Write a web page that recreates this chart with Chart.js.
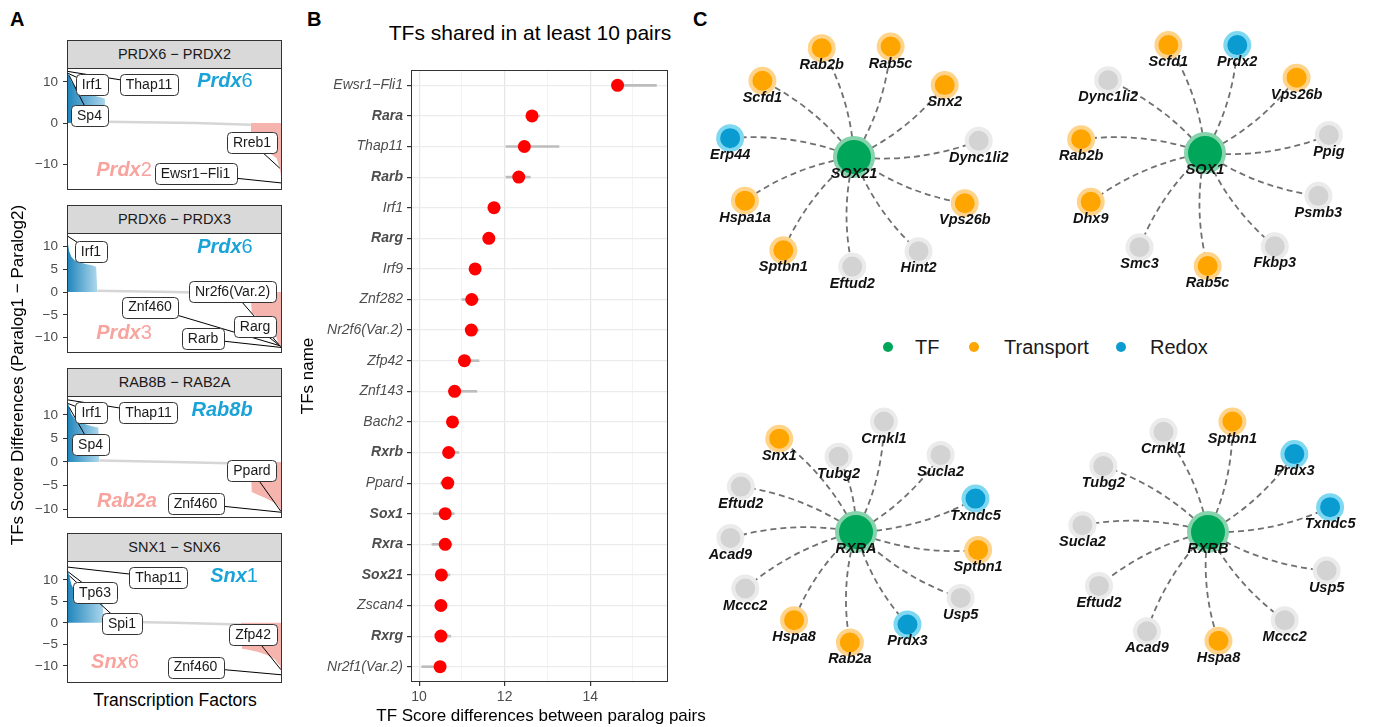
<!DOCTYPE html>
<html>
<head>
<meta charset="utf-8">
<title>TF score differences between paralog pairs</title>
<script src="https://cdn.jsdelivr.net/npm/chart.js@4.4.1/dist/chart.umd.min.js"></script>
<style>
  html, body { margin: 0; padding: 0; background: #fff; }
  body { position: relative; width: 1387px; height: 727px; overflow: hidden;
         font-family: 'Liberation Sans', Arial, Helvetica, sans-serif; color: #000; }
  canvas { position: absolute; }
  .abs { position: absolute; white-space: nowrap; }
  .tag { position: absolute; font-weight: bold; font-size: 20px; line-height: 20px; }
  .strip { position: absolute; left: 67px; width: 213px; height: 27px; line-height: 27px;
           background: #d9d9d9; border: 1px solid #333; text-align: center;
           font-size: 14.5px; color: #1a1a1a; }
  .dot { position: absolute; width: 10px; height: 10px; border-radius: 50%; }
  .leg { position: absolute; font-size: 20px; line-height: 24px; color: #1a1a1a; }
</style>
</head>
<body>

<div class="tag" style="left:10px;top:9px">A</div>
<div class="tag" style="left:307px;top:9px">B</div>
<div class="tag" style="left:693px;top:9px">C</div>

<!-- panel A -->
<div class="strip" style="top:40px" id="strip0"></div>
<div class="strip" style="top:205px" id="strip1"></div>
<div class="strip" style="top:368px" id="strip2"></div>
<div class="strip" style="top:533px" id="strip3"></div>
<canvas id="facet0" width="264" height="122" style="left:20px;top:68px"></canvas>
<canvas id="facet1" width="264" height="120" style="left:20px;top:233px"></canvas>
<canvas id="facet2" width="264" height="122" style="left:20px;top:396px"></canvas>
<canvas id="facet3" width="264" height="122" style="left:20px;top:561px"></canvas>
<div class="abs" style="left:-232px;top:365px;width:500px;height:20px;line-height:20px;text-align:center;font-size:17px;transform:rotate(-90deg)">TFs Score Differences (Paralog1 − Paralog2)</div>
<div class="abs" style="left:75px;top:689px;width:200px;text-align:center;font-size:17.5px;line-height:22px">Transcription Factors</div>

<!-- panel B -->
<div class="abs" style="left:330px;top:21px;width:400px;text-align:center;font-size:21px;line-height:24px">TFs shared in at least 10 pairs</div>
<canvas id="dotplot" width="420" height="727" style="left:300px;top:0px"></canvas>
<div class="abs" style="left:341px;top:705px;width:400px;text-align:center;font-size:17px;line-height:22px">TF Score differences between paralog pairs</div>

<!-- panel C -->
<canvas id="net0" width="360" height="320" style="left:674px;top:-3px"></canvas>
<canvas id="net1" width="360" height="320" style="left:1025px;top:-7px"></canvas>
<canvas id="net2" width="360" height="320" style="left:676px;top:372px"></canvas>
<canvas id="net3" width="360" height="320" style="left:1028px;top:372px"></canvas>

<div class="dot" style="left:883px;top:342px;background:#00a65a"></div>
<div class="leg" style="left:915px;top:335px">TF</div>
<div class="dot" style="left:969px;top:342px;background:#ffa500"></div>
<div class="leg" style="left:1004px;top:335px">Transport</div>
<div class="dot" style="left:1116px;top:342px;background:#0a9bd0"></div>
<div class="leg" style="left:1150px;top:335px">Redox</div>

<script>
// ---------- panel A : sorted TF score differences per paralog pair ----------
const pairNames = ['PRDX6 − PRDX2', 'PRDX6 − PRDX3', 'RAB8B − RAB2A', 'SNX1 − SNX6'];
const paralog1 = ['Prdx6', 'Prdx6', 'Rab8b', 'Snx1'];
const paralog2 = ['Prdx2', 'Prdx3', 'Rab2a', 'Snx6'];

const rankA1 = [1, 2, 3, 5, 8, 12, 17, 22, 27, 32, 36, 37, 120, 171, 172, 178, 184, 190, 195, 198, 200];
const diffA1 = [12.6, 12.1, 11.6, 10.2, 9.0, 8.0, 7.3, 6.9, 6.6, 6.3, 6.0, 0.3, 0.0, -0.4, -5.8, -6.3, -6.9, -7.6, -8.6, -11.0, -14.6];
const rankA2 = [1, 2, 3, 5, 8, 12, 18, 24, 28, 29, 100, 171, 172, 178, 184, 190, 194, 197, 198, 199, 200];
const diffA2 = [12.4, 10.5, 9.0, 7.8, 7.0, 6.6, 6.2, 5.9, 5.6, 0.3, 0.0, -0.4, -4.6, -5.6, -6.6, -7.8, -9.5, -11.5, -11.8, -12.0, -12.2];
const rankA3 = [1, 2, 3, 5, 8, 12, 18, 24, 30, 31, 100, 171, 172, 178, 184, 190, 195, 198, 199, 200];
const diffA3 = [13.2, 12.4, 11.6, 10.2, 9.2, 8.6, 8.0, 7.6, 7.3, 0.3, 0.0, -0.4, -6.4, -7.0, -7.6, -8.3, -9.0, -9.8, -10.5, -10.7];
const rankA4 = [1, 2, 3, 5, 8, 12, 18, 24, 30, 34, 35, 100, 162, 163, 170, 178, 186, 193, 198, 199, 200];
const diffA4 = [13.0, 11.9, 11.0, 9.0, 7.5, 6.2, 5.4, 5.0, 4.7, 4.5, 0.3, 0.0, -0.4, -6.0, -6.3, -6.8, -7.5, -8.4, -10.0, -10.9, -12.1];

// labelled TFs and their rank in each pair
const tfA1 = ['Thap11', 'Irf1', 'Sp4', 'Rreb1', 'Ewsr1−Fli1'];
const tfRankA1 = [1, 2, 3, 198, 200];
const tfA2 = ['Irf1', 'Nr2f6(Var.2)', 'Znf460', 'Rarg', 'Rarb'];
const tfRankA2 = [1, 197, 198, 199, 200];
const tfA3 = ['Thap11', 'Irf1', 'Sp4', 'Ppard', 'Znf460'];
const tfRankA3 = [1, 2, 3, 199, 200];
const tfA4 = ['Thap11', 'Tp63', 'Spi1', 'Zfp42', 'Znf460'];
const tfRankA4 = [1, 2, 3, 199, 200];

const yTicksA = [[-10, 0, 10], [-10, -5, 0, 5, 10], [-10, -5, 0, 5, 10], [-10, -5, 0, 5, 10]];

// ---------- panel B : TFs shared in at least 10 pairs ----------
const tfNames = ['Ewsr1−Fli1', 'Rara', 'Thap11', 'Rarb', 'Irf1', 'Rarg', 'Irf9', 'Znf282', 'Nr2f6(Var.2)', 'Zfp42',
                 'Znf143', 'Bach2', 'Rxrb', 'Ppard', 'Sox1', 'Rxra', 'Sox21', 'Zscan4', 'Rxrg', 'Nr2f1(Var.2)'];
const tfIsBold = [false, true, false, true, false, true, false, false, false, false,
                  false, false, true, false, true, true, true, false, true, false];
const meanDiff = [14.64, 12.64, 12.46, 12.33, 11.75, 11.63, 11.31, 11.23, 11.22, 11.06,
                  10.83, 10.78, 10.69, 10.67, 10.61, 10.61, 10.52, 10.51, 10.51, 10.49];
const minDiff = [14.55, 12.55, 12.03, 12.03, 11.70, 11.58, 11.25, 11.00, 11.15, 11.00,
                 10.68, 10.72, 10.60, 10.50, 10.33, 10.30, 10.45, 10.45, 10.45, 10.06];
const maxDiff = [15.55, 12.82, 13.27, 12.60, 11.90, 11.70, 11.40, 11.40, 11.40, 11.40,
                 11.35, 10.85, 10.93, 10.75, 10.82, 10.77, 10.72, 10.60, 10.74, 10.61];
const scoreTicks = [10, 11, 12, 13, 14, 15];
const scoreTickLabels = ['10', '', '12', '', '14', ''];

// ---------- panel C : TF networks ----------
const hubNames = ['SOX21', 'SOX1', 'RXRA', 'RXRB'];
const genesC1 = ['Rab2b', 'Rab5c', 'Scfd1', 'Snx2', 'Erp44', 'Dync1li2', 'Hspa1a', 'Vps26b', 'Sptbn1', 'Eftud2', 'Hint2'];
const groupC1 = ['Transport', 'Transport', 'Transport', 'Transport', 'Redox', 'Other', 'Transport', 'Transport', 'Transport', 'Other', 'Other'];
const layoutXC1 = [-37, 42, -105, 104, -142, 143, -125, 127, -81, -2, 74];
const layoutYC1 = [127, 129, 89, 84, 22, 19, -51, -54, -109, -128, -110];

const genesC2 = ['Scfd1', 'Prdx2', 'Dync1li2', 'Vps26b', 'Rab2b', 'Ppig', 'Dhx9', 'Psmb3', 'Smc3', 'Rab5c', 'Fkbp3'];
const groupC2 = ['Transport', 'Redox', 'Other', 'Transport', 'Transport', 'Other', 'Transport', 'Other', 'Other', 'Transport', 'Other'];
const layoutXC2 = [-42, 37, -111, 105, -142, 142, -131, 130, -75, 3, 80];
const layoutYC2 = [126, 126, 85, 88, 16, 21, -57, -50, -110, -132, -109];

const genesC3 = ['Crnkl1', 'Snx1', 'Tubg2', 'Sucla2', 'Eftud2', 'Txndc5', 'Acad9', 'Sptbn1', 'Mccc2', 'Usp5', 'Hspa8', 'Rab2a', 'Prdx3'];
const groupC3 = ['Other', 'Transport', 'Other', 'Other', 'Other', 'Redox', 'Other', 'Transport', 'Other', 'Other', 'Transport', 'Transport', 'Redox'];
const layoutXC3 = [32, -88, -20, 97, -132, 137, -144, 140, -127, 120, -71, -7, 59];
const layoutYC3 = [129, 109, 88, 90, 53, 39, -7, -21, -66, -77, -103, -129, -108];

const genesC4 = ['Sptbn1', 'Crnkl1', 'Prdx3', 'Tubg2', 'Txndc5', 'Sucla2', 'Usp5', 'Eftud2', 'Mccc2', 'Acad9', 'Hspa8'];
const groupC4 = ['Transport', 'Other', 'Redox', 'Other', 'Redox', 'Other', 'Other', 'Other', 'Other', 'Other', 'Transport'];
const layoutXC4 = [28, -51, 99, -120, 140, -144, 136, -125, 88, -70, 12];
const layoutYC4 = [129, 117, 91, 77, 29, 8, -45, -63, -103, -116, -127];


const FONT = "'Liberation Sans', Arial, Helvetica, sans-serif";
Chart.defaults.font.family = FONT;
Chart.defaults.animation = false;

// grey panel border like theme_bw
const borderPlugin = {
    id: 'panelBorder',
    afterDraw(chart) {
        const { ctx, chartArea: a } = chart;
        ctx.save();
        ctx.strokeStyle = '#333';
        ctx.lineWidth = 1;
        ctx.strokeRect(Math.round(a.left) + 0.5, Math.round(a.top) + 0.5,
                       Math.round(a.right - a.left) - 1, Math.round(a.bottom - a.top) - 1);
        ctx.restore();
    }
};

// ggrepel-like boxes + paralog names
const repelPlugin = {
    id: 'repel',
    afterDatasetsDraw(chart, args, opts) {
        const { ctx, scales: { x, y } } = chart;
        ctx.save();
        ctx.strokeStyle = '#000';
        ctx.lineWidth = 1;
        opts.items.forEach(it => {
            ctx.beginPath();
            ctx.moveTo(x.getPixelForValue(it.tx), y.getPixelForValue(it.ty));
            ctx.lineTo(x.getPixelForValue(it.bx), y.getPixelForValue(it.by));
            ctx.stroke();
        });
        ctx.font = '14px ' + FONT;
        ctx.textAlign = 'center';
        ctx.textBaseline = 'middle';
        opts.items.forEach(it => {
            const cx = x.getPixelForValue(it.bx), cy = y.getPixelForValue(it.by);
            const w = ctx.measureText(it.text).width + 12, h = 21;
            ctx.beginPath();
            ctx.roundRect(Math.round(cx - w / 2) + 0.5, Math.round(cy - h / 2) + 0.5, Math.round(w), h, 4);
            ctx.fillStyle = '#fff';
            ctx.fill();
            ctx.strokeStyle = '#333';
            ctx.stroke();
            ctx.fillStyle = '#1a1a1a';
            ctx.fillText(it.text, cx, cy + 0.5);
        });

        // paralog names: gene part bold italic, trailing digit plain
        ctx.textAlign = 'left';
        opts.paralogs.forEach(p => {
            const m = p.name.match(/^(.*?)(\d?)$/);
            const fHead = 'italic bold 20px ' + FONT, fTail = '20px ' + FONT;
            ctx.font = fHead;
            const w1 = ctx.measureText(m[1]).width;
            ctx.font = fTail;
            const w2 = ctx.measureText(m[2]).width;
            const px = x.getPixelForValue(p.x) - (w1 + w2) / 2;
            const py = y.getPixelForValue(p.y);
            ctx.fillStyle = p.color;
            ctx.font = fHead;
            ctx.fillText(m[1], px, py);
            ctx.font = fTail;
            ctx.fillText(m[2], px + w1, py);
        });
        ctx.restore();
    }
};

// where the repel boxes sit (data units) and y limits of each facet
const facetLayout = [
    { yMin: -16.3, yMax: 13.4,
      boxes: [[76.9, 9.4], [24.1, 9.4], [21.8, 1.8], [172.2, -4.8], [119.9, -12.4]],
      p1: [147.2, 10.0], p2: [53.8, -11.5] },
    { yMin: -13.4, yMax: 13.0,
      boxes: [[23.2, 9.0], [154.2, 0.2], [77.8, -3.3], [175, -7.5], [126.9, -10.3]],
      p1: [147.2, 9.9], p2: [53.8, -9.0] },
    { yMin: -11.9, yMax: 14.0,
      boxes: [[76.4, 10.5], [23.7, 10.5], [22.8, 3.6], [172.2, -1.9], [119.9, -8.8]],
      p1: [144.5, 10.9], p2: [56.5, -8.3] },
    { yMin: -14.0, yMax: 14.4,
      boxes: [[85.7, 10.6], [26.9, 7.1], [51.9, -0.2], [173.2, -2.8], [119.9, -10.3]],
      p1: [155.6, 10.7], p2: [45.4, -9.3] }
];

const facetRanks = [rankA1, rankA2, rankA3, rankA4];
const facetDiffs = [diffA1, diffA2, diffA3, diffA4];
const facetTfs = [tfA1, tfA2, tfA3, tfA4];
const facetTfRanks = [tfRankA1, tfRankA2, tfRankA3, tfRankA4];

function drawFacet(k) {
    const ranks = facetRanks[k], diffs = facetDiffs[k], lay = facetLayout[k];
    document.getElementById('strip' + k).textContent = pairNames[k];

    const pts = ranks.map((r, i) => ({ x: r, y: diffs[i] }));
    let iPos = 0;
    while (pts[iPos + 1].y > 1) iPos++;
    let iNeg = pts.findIndex(p => p.y < -1);
    const posPts = pts.slice(0, iPos + 2);
    const midPts = pts.slice(iPos + 1, iNeg);
    const negPts = pts.slice(iNeg - 1);
    const lastPosRank = pts[iPos].x;

    const items = facetTfs[k].map((t, i) => {
        const r = facetTfRanks[k][i];
        return { text: t, tx: r, ty: diffs[ranks.indexOf(r)], bx: lay.boxes[i][0], by: lay.boxes[i][1] };
    });

    new Chart(document.getElementById('facet' + k), {
        type: 'line',
        data: {
            datasets: [
                {
                    data: posPts, fill: 'origin', borderWidth: 0, pointRadius: 0, tension: 0,
                    backgroundColor: (c) => {
                        const ch = c.chart, a = ch.chartArea;
                        if (!a) return '#4fa9d3';
                        const x1 = ch.scales.x.getPixelForValue(lastPosRank);
                        const g = ch.ctx.createLinearGradient(a.left, 0, x1, 0);
                        g.addColorStop(0, '#1e84bb');
                        g.addColorStop(1, '#a9d5eb');
                        return g;
                    }
                },
                { data: midPts, fill: false, borderColor: '#d6d6d6', borderWidth: 2.5, pointRadius: 0, tension: 0 },
                { data: negPts, fill: 'origin', borderWidth: 0, pointRadius: 0, tension: 0, backgroundColor: '#f6b4af' }
            ]
        },
        options: {
            responsive: false,
            layout: { padding: { left: 0, right: 2, top: 0, bottom: 0 } },
            plugins: {
                legend: { display: false },
                tooltip: { enabled: false },
                repel: {
                    items: items,
                    paralogs: [
                        { name: paralog1[k], x: lay.p1[0], y: lay.p1[1], color: '#19a3d8' },
                        { name: paralog2[k], x: lay.p2[0], y: lay.p2[1], color: '#f8a39d' }
                    ]
                }
            },
            scales: {
                x: { type: 'linear', min: 1, max: 200, display: false },
                y: {
                    type: 'linear', min: lay.yMin, max: lay.yMax,
                    afterBuildTicks: s => { s.ticks = yTicksA[k].map(v => ({ value: v })); },
                    afterFit: s => { s.width = 47; s.paddingTop = 0; s.paddingBottom = 0; },
                    border: { display: false },
                    grid: { drawOnChartArea: false, tickLength: 4, tickColor: '#333' },
                    ticks: {
                        color: '#4d4d4d', padding: 5, font: { size: 13.5 },
                        callback: v => String(v).replace('-', '−')
                    }
                }
            }
        },
        plugins: [repelPlugin, borderPlugin]
    });
}
[0, 1, 2, 3].forEach(drawFacet);

// ---------- panel B chart ----------
new Chart(document.getElementById('dotplot'), {
    type: 'bar',
    data: {
        labels: tfNames,
        datasets: [
            {
                type: 'line', indexAxis: 'y', data: meanDiff, showLine: false, order: 0,
                pointRadius: 6.5, pointBackgroundColor: '#ff0000', pointBorderWidth: 0
            },
            {
                data: tfNames.map((_, i) => [minDiff[i], maxDiff[i]]), order: 1,
                backgroundColor: '#bdbdbd', barThickness: 2, borderSkipped: false
            }
        ]
    },
    options: {
        indexAxis: 'y',
        responsive: false,
        layout: { padding: { top: 70, right: 52, left: 0, bottom: 0 } },
        plugins: { legend: { display: false }, tooltip: { enabled: false } },
        scales: {
            x: {
                type: 'linear', min: 9.81, max: 15.82,
                afterBuildTicks: s => { s.ticks = scoreTicks.map(v => ({ value: v })); },
                afterFit: s => { s.height = 45; s.paddingLeft = 0; s.paddingRight = 0; },
                border: { display: false },
                grid: {
                    color: c => (c.tick && c.tick.value % 2 === 0) ? '#e6e6e6' : '#f0f0f0',
                    lineWidth: c => (c.tick && c.tick.value % 2 === 0) ? 1.2 : 0.8,
                    tickColor: c => (c.tick && c.tick.value % 2 === 0) ? '#333' : 'rgba(0,0,0,0)',
                    tickLength: 4
                },
                ticks: {
                    color: '#4d4d4d', font: { size: 14 }, padding: 3, maxRotation: 0, autoSkip: false,
                    callback: (v, i) => scoreTickLabels[i]
                }
            },
            y: {
                type: 'category', offset: true,
                afterFit: s => { s.width = 111; s.paddingTop = 0; s.paddingBottom = 0; },
                border: { display: false },
                grid: { color: '#ebebeb', lineWidth: 1.2, offset: false, tickLength: 4, tickColor: '#333' },
                ticks: {
                    color: '#4d4d4d', padding: 4,
                    font: c => ({ family: FONT, size: 14, style: 'italic', weight: tfIsBold[c.index] ? 'bold' : 'normal' })
                },
                title: {
                    display: true, text: 'TFs name', color: '#000',
                    font: { size: 17, lineHeight: 1 }, padding: { top: 0, bottom: 0 }
                }
            }
        }
    },
    plugins: [borderPlugin]
});

// ---------- panel C networks ----------
const groupFill = { TF: '#00a65a', Transport: '#ffa500', Redox: '#0a9bd0', Other: '#d3d3d3' };
const groupRing = { TF: '#86d3ac', Transport: '#ffd48a', Redox: '#7fd8f2', Other: '#ebebeb' };

const networkPlugin = {
    id: 'network',
    beforeDatasetsDraw(chart, args, opts) {
        const meta = chart.getDatasetMeta(0);
        const hub = meta.data[0];
        const ctx = chart.ctx;
        ctx.save();
        ctx.strokeStyle = '#707070';
        ctx.lineWidth = 1.8;
        ctx.setLineDash([6, 4]);
        meta.data.slice(1).forEach(pt => {
            const dx = pt.x - hub.x, dy = pt.y - hub.y;
            const cx = (hub.x + pt.x) / 2 - dy * opts.bend;
            const cy = (hub.y + pt.y) / 2 + dx * opts.bend;
            ctx.beginPath();
            ctx.moveTo(hub.x, hub.y);
            ctx.quadraticCurveTo(cx, cy, pt.x, pt.y);
            ctx.stroke();
        });
        ctx.restore();
    },
    afterDatasetsDraw(chart, args, opts) {
        const meta = chart.getDatasetMeta(0);
        const ctx = chart.ctx;
        ctx.save();
        ctx.font = 'italic bold 14.5px ' + FONT;
        ctx.textAlign = 'center';
        ctx.textBaseline = 'middle';
        ctx.fillStyle = '#111';
        meta.data.forEach((pt, i) => {
            ctx.fillText(opts.names[i], pt.x, pt.y + 17);
        });
        ctx.restore();
    }
};

function drawNetwork(k, genes, groups, lx, ly) {
    const pts = [{ x: 0, y: 0 }].concat(lx.map((v, i) => ({ x: v, y: ly[i] })));
    const grp = ['TF'].concat(groups);
    new Chart(document.getElementById('net' + k), {
        type: 'scatter',
        data: {
            datasets: [{
                data: pts,
                pointRadius: grp.map(g => g === 'TF' ? 19 : 12),
                pointHoverRadius: grp.map(g => g === 'TF' ? 19 : 12),
                pointBorderWidth: 4,
                pointBackgroundColor: grp.map(g => groupFill[g]),
                pointBorderColor: grp.map(g => groupRing[g])
            }]
        },
        options: {
            responsive: false,
            layout: { padding: 0 },
            plugins: {
                legend: { display: false },
                tooltip: { enabled: false },
                network: { names: [hubNames[k]].concat(genes), bend: 0.12 }
            },
            scales: {
                x: { type: 'linear', min: -180, max: 180, display: false },
                y: { type: 'linear', min: -160, max: 160, display: false }
            }
        },
        plugins: [networkPlugin]
    });
}
drawNetwork(0, genesC1, groupC1, layoutXC1, layoutYC1);
drawNetwork(1, genesC2, groupC2, layoutXC2, layoutYC2);
drawNetwork(2, genesC3, groupC3, layoutXC3, layoutYC3);
drawNetwork(3, genesC4, groupC4, layoutXC4, layoutYC4);
</script>
</body>
</html>
